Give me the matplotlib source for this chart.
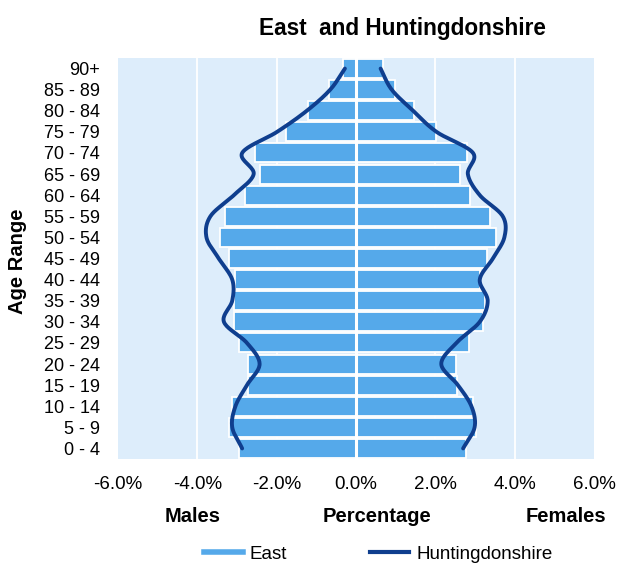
import numpy as np
import matplotlib
matplotlib.use("Agg")
import matplotlib.pyplot as plt
from matplotlib.lines import Line2D

plt.rcParams['font.family'] = ['Liberation Sans', 'DejaVu Sans']

age_groups = ["0 - 4", "5 - 9", "10 - 14", "15 - 19", "20 - 24", "25 - 29", "30 - 34",
              "35 - 39", "40 - 44", "45 - 49", "50 - 54", "55 - 59", "60 - 64", "65 - 69",
              "70 - 74", "75 - 79", "80 - 84", "85 - 89", "90+"]

# East (bars), percent of population
east_male = [2.96, 3.21, 3.12, 2.72, 2.72, 2.96, 3.08, 3.08, 3.04, 3.21,
             3.44, 3.31, 2.81, 2.41, 2.54, 1.76, 1.20, 0.67, 0.32]
east_female = [2.78, 3.02, 2.95, 2.55, 2.53, 2.85, 3.20, 3.26, 3.12, 3.30,
               3.52, 3.38, 2.88, 2.61, 2.81, 2.01, 1.46, 0.98, 0.67]

# Huntingdonshire (line), percent of population
hunt_male = [2.87, 3.12, 3.04, 2.75, 2.43, 2.75, 3.33, 3.12, 3.12, 3.46,
             3.77, 3.67, 3.08, 2.58, 2.87, 1.99, 1.24, 0.65, 0.28]
hunt_female = [2.70, 2.99, 2.91, 2.57, 2.15, 2.53, 3.12, 3.32, 3.12, 3.45,
               3.74, 3.70, 3.12, 2.82, 2.95, 2.03, 1.44, 0.90, 0.62]

xticks = [-6, -4, -2, 0, 2, 4, 6]

bar_color = "#55A9EA"
line_color = "#0F3E8E"
bg_color = "#DDEDFB"


def catmull_rom(xs, ys, n=20):
    xs = np.asarray(xs, float)
    ys = np.asarray(ys, float)
    px = np.concatenate([[2 * xs[0] - xs[1]], xs, [2 * xs[-1] - xs[-2]]])
    py = np.concatenate([[2 * ys[0] - ys[1]], ys, [2 * ys[-1] - ys[-2]]])
    outx, outy = [], []
    for i in range(1, len(px) - 2):
        t = np.linspace(0, 1, n, endpoint=False)
        for arr, out in ((px, outx), (py, outy)):
            p0, p1, p2, p3 = arr[i - 1], arr[i], arr[i + 1], arr[i + 2]
            out.extend(0.5 * ((2 * p1) + (-p0 + p2) * t +
                              (2 * p0 - 5 * p1 + 4 * p2 - p3) * t ** 2 +
                              (-p0 + 3 * p1 - 3 * p2 + p3) * t ** 3))
    outx.append(xs[-1])
    outy.append(ys[-1])
    return np.array(outx), np.array(outy)


fig = plt.figure(figsize=(6.17, 5.64), dpi=100)
ax = fig.add_axes([118 / 617, 1 - 459 / 564, 476 / 617, 401 / 564])
ax.set_facecolor(bg_color)

y = np.arange(len(age_groups))
ax.barh(y, [-v for v in east_male], height=0.9, color=bar_color,
        edgecolor="white", linewidth=1.3, zorder=2)
ax.barh(y, east_female, height=0.9, color=bar_color,
        edgecolor="white", linewidth=1.3, zorder=2)

for gx in xticks[1:-1]:
    ax.axvline(gx, color="white", lw=1.3 if gx != 0 else 2.2, zorder=1 if gx != 0 else 3)

mx, my = catmull_rom([-v for v in hunt_male], y)
fx, fy = catmull_rom(hunt_female, y)
ax.plot(mx, my, color=line_color, lw=2.8, solid_capstyle="round", zorder=4)
ax.plot(fx, fy, color=line_color, lw=2.8, solid_capstyle="round", zorder=4)

ax.set_xlim(-6, 6)
ax.set_ylim(-0.5, len(age_groups) - 0.5)
ax.set_xticks(xticks)
ax.set_xticklabels([f"{v:.1f}%" for v in xticks], fontsize=13.5)
ax.set_yticks(y)
ax.set_yticklabels(age_groups, fontsize=13)
ax.tick_params(axis="both", length=0)
ax.tick_params(axis="x", pad=12)
ax.tick_params(axis="y", pad=13)
for s in ax.spines.values():
    s.set_visible(False)

fig.text(402 / 617, 1 - 28 / 564, "East  and Huntingdonshire", fontsize=16.3,
         fontweight="bold", ha="center", va="center")
fig.text(18 / 617, 1 - 261 / 564, "Age Range", fontsize=14.5, fontweight="bold",
         rotation=90, ha="center", va="center")
fig.text(193 / 617, 1 - 517 / 564, "Males", fontsize=14.5, fontweight="bold",
         ha="center", va="center")
fig.text(377 / 617, 1 - 517 / 564, "Percentage", fontsize=14.5, fontweight="bold",
         ha="center", va="center")
fig.text(566 / 617, 1 - 517 / 564, "Females", fontsize=14.5, fontweight="bold",
         ha="center", va="center")

handles = [Line2D([], [], color=bar_color, lw=4),
           Line2D([], [], color=line_color, lw=3)]
fig.legend(handles, ["East", "Huntingdonshire"], loc="center",
           bbox_to_anchor=(378 / 617, 1 - 554 / 564), ncol=2, frameon=False,
           fontsize=13.5, handlelength=2.1, handletextpad=0.37, columnspacing=4.4,
           borderpad=0, borderaxespad=0)

fig.savefig("out.png", dpi=100, facecolor="white")
